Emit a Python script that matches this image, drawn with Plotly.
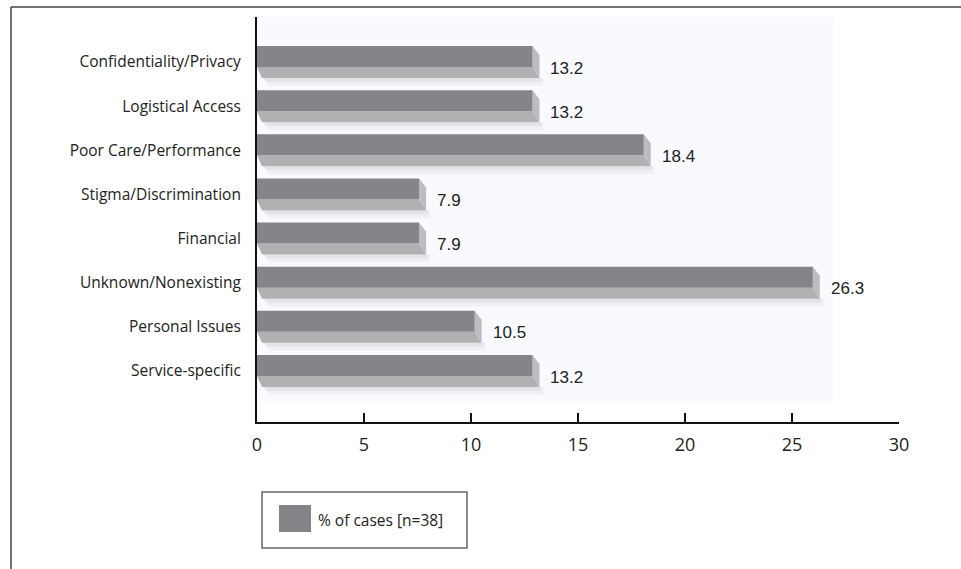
import plotly.graph_objects as go

# Reasons reported, listed top to bottom, with share of cases (%)
categories = [
    "Confidentiality/Privacy",
    "Logistical Access",
    "Poor Care/Performance",
    "Stigma/Discrimination",
    "Financial",
    "Unknown/Nonexisting",
    "Personal Issues",
    "Service-specific",
]
values = [13.2, 13.2, 18.4, 7.9, 7.9, 26.3, 10.5, 13.2]
x_ticks = [0, 5, 10, 15, 20, 25, 30]
legend_label = "% of cases [n=38]"

W, H = 961, 569
L, R, T, B = 257, 62, 17, 147
PW, PH = W - L - R, H - T - B
X_RANGE = [0, 30]
Y_RANGE = [-1.155, 8.02]
XS = (X_RANGE[1] - X_RANGE[0]) / PW          # data units per pixel (x)
YS = (Y_RANGE[1] - Y_RANGE[0]) / PH          # data units per pixel (y)

n = len(categories)
ypos = [n - 1 - i for i in range(n)]

DARK = "#858589"
LIGHT = "#b1b1b4"
SIDE = "#bdbdc0"


def polys(builder):
    xs, ys = [], []
    for v, c in zip(values, ypos):
        px, py = builder(v, c)
        xs += px + [px[0], None]
        ys += py + [py[0], None]
    return xs, ys


def face_dark(v, c):
    e = v - 7 * XS
    return [0, e, e, 0], [c + 16 * YS, c + 16 * YS, c - 5 * YS, c - 5 * YS]


def face_light(v, c):
    e = v - 7 * XS
    return [0, e, v, 5 * XS], [c - 5 * YS, c - 5 * YS, c - 16 * YS, c - 16 * YS]


def face_side(v, c):
    e = v - 7 * XS
    return [e, v, v, e], [c + 16 * YS, c + 7 * YS, c - 16 * YS, c - 5 * YS]


def shadow_a(v, c):
    return [6 * XS, v + 2 * XS, v + 2 * XS, 9 * XS], [c - 16 * YS, c - 16 * YS, c - 20 * YS, c - 20 * YS]


def shadow_b(v, c):
    return [8 * XS, v + 4 * XS, v + 4 * XS, 12 * XS], [c - 16 * YS, c - 16 * YS, c - 24 * YS, c - 24 * YS]


fig = go.Figure()
for fn, col in [
    (shadow_b, "rgba(0,0,0,0.035)"),
    (shadow_a, "rgba(0,0,0,0.05)"),
    (face_light, LIGHT),
    (face_side, SIDE),
    (face_dark, DARK),
]:
    xs, ys = polys(fn)
    fig.add_trace(go.Scatter(
        x=xs, y=ys, mode="lines", fill="toself", fillcolor=col,
        line=dict(width=0), hoverinfo="skip", showlegend=False,
    ))

# value labels at the end of each bar
for v, c in zip(values, ypos):
    fig.add_annotation(
        x=v + 9 * XS, y=c - 6 * YS, text=f"{v:.1f}", showarrow=False,
        xanchor="left", yanchor="middle",
        font=dict(family="Liberation Sans, Arial", size=17, color="#222222"),
    )


def px2paper(x, y):
    return (x - L) / PW, (H - B - y) / PH


shapes = []
# faint plot backdrop
x0, y0 = px2paper(257, 401)
x1, y1 = px2paper(833, 17)
shapes.append(dict(type="rect", xref="paper", yref="paper", x0=x0, y0=y0, x1=x1, y1=y1,
                   fillcolor="#f8fafd", line=dict(width=0), layer="below"))
# outer frame (top and left edges)
fx0, fy0 = px2paper(11, 7)
fx1, _ = px2paper(961, 7)
_, fyb = px2paper(11, 570)
shapes.append(dict(type="line", xref="paper", yref="paper", x0=fx0, y0=fy0, x1=fx1, y1=fy0,
                   line=dict(color="#444444", width=1.5)))
shapes.append(dict(type="line", xref="paper", yref="paper", x0=fx0, y0=fy0, x1=fx0, y1=fyb,
                   line=dict(color="#444444", width=1.5)))
# legend box and swatch
lx0, ly0 = px2paper(262, 548)
lx1, ly1 = px2paper(467, 492)
shapes.append(dict(type="rect", xref="paper", yref="paper", x0=lx0, y0=ly0, x1=lx1, y1=ly1,
                   fillcolor="white", line=dict(color="#666666", width=1.5)))
sx0, sy0 = px2paper(279, 532)
sx1, sy1 = px2paper(311, 505)
shapes.append(dict(type="rect", xref="paper", yref="paper", x0=sx0, y0=sy0, x1=sx1, y1=sy1,
                   fillcolor=DARK, line=dict(width=0)))
tx, ty = px2paper(316, 520)
fig.add_annotation(xref="paper", yref="paper", x=tx, y=ty, text=legend_label, showarrow=False,
                   xanchor="left", yanchor="middle",
                   font=dict(family="Open Sans", size=15.5, color="#222222"))

fig.update_layout(
    width=W, height=H,
    margin=dict(l=L, r=R, t=T, b=B, pad=0),
    paper_bgcolor="white", plot_bgcolor="rgba(0,0,0,0)",
    shapes=shapes,
    showlegend=False,
    font=dict(family="Open Sans", color="#222222"),
)
fig.update_xaxes(
    range=X_RANGE, tickvals=x_ticks, ticktext=[str(t) for t in x_ticks],
    showgrid=False, zeroline=False, showline=True, linecolor="#111111", linewidth=2,
    ticks="inside", ticklen=9, tickwidth=2, tickcolor="#111111",
    tickfont=dict(family="Open Sans", size=18, color="#222222"), ticklabelstandoff=5,
    fixedrange=True,
)
fig.update_yaxes(
    range=Y_RANGE, tickvals=ypos, ticktext=categories,
    showgrid=False, zeroline=False, showline=True, linecolor="#111111", linewidth=2,
    ticks="", tickfont=dict(family="Open Sans", size=15.5, color="#222222"),
    ticklabelstandoff=11, fixedrange=True,
)

fig.write_html("out.html")
